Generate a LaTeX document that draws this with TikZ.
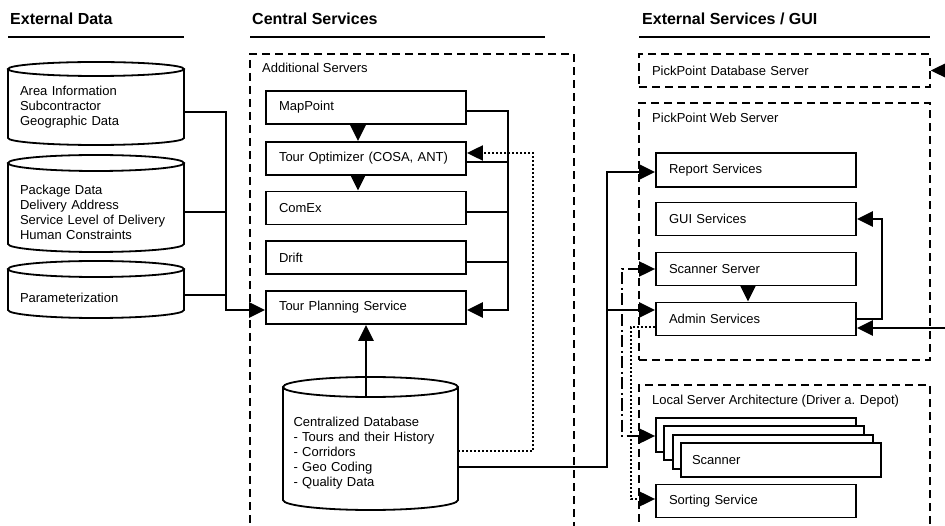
\documentclass[tikz,border=0pt]{standalone}
\usepackage{fontspec}
\setmainfont{Liberation Sans}
\usetikzlibrary{arrows.meta}
\newcommand\cylshape[5]{%
  \pgfmathsetmacro\cxm{(#1+#2)/2}\pgfmathsetmacro\rxm{(#2-#1)/2}%
  \draw[cyl] (#1,#3+#5) -- (#1,#4-#5) arc[start angle=180,end angle=360,x radius=\rxm pt,y radius=#5 pt] -- (#2,#3+#5);
  \draw[cyl] (\cxm,#3+#5) ellipse[x radius=\rxm pt, y radius=#5 pt];}
\begin{document}
\begin{tikzpicture}[x=1pt,y=-1pt,
  font=\fontsize{13}{15}\selectfont,
  >={Triangle[length=16pt,width=15pt]},
  bx/.style={draw, line width=1.8pt, minimum width=200pt, minimum height=33pt, text width=174pt, inner xsep=13pt, inner ysep=0pt, align=left, fill=white},
  conn/.style={line width=2.4pt},
  dotl/.style={line width=2pt, dash pattern=on 2pt off 2pt},
  ddl/.style={line width=2pt, dash pattern=on 12pt off 3.5pt on 2pt off 3.5pt},
  cont/.style={draw, line width=1.5pt, dash pattern=on 8pt off 5pt},
  hdr/.style={font=\bfseries\fontsize{16}{19}\selectfont, anchor=base west, inner sep=0pt},
  uline/.style={line width=1.8pt},
  lbl/.style={anchor=west, inner sep=0pt},
  cyl/.style={line width=1.8pt},
  cylbody/.style={minimum width=176pt, text width=152pt, inner xsep=12pt, inner ysep=0pt, align=left}
]
\useasboundingbox (0,0) rectangle (945,526);
\clip (0,0) rectangle (945,526);

% headers
\node[hdr] (h1) at (10,25) {External Data};
\node[hdr] (h2) at (252,25) {Central Services};
\node[hdr] (h3) at (642,25) {External Services / GUI};
\draw[uline] (8,37) -- (184,37);
\draw[uline] (250,37) -- (545,37);
\draw[uline] (639,37) -- (930,37);

% containers
\node[cont, minimum width=324pt, minimum height=490pt] (addsrv) at (412,299) {};
\node[lbl] (addlbl) at (262,68) {Additional Servers};
\node[cont, minimum width=291pt, minimum height=33pt, text width=265pt, inner xsep=13pt, inner ysep=0pt, align=left] (pdb) at (784.5,70.5) {PickPoint Database Server};
\node[cont, minimum width=291pt, minimum height=257pt] (web) at (784.5,231.5) {};
\node[lbl] (weblbl) at (652,118) {PickPoint Web Server};
\node[cont, minimum width=291pt, minimum height=160pt] (local) at (784.5,465) {};
\node[lbl] (loclbl) at (652,401) {Local Server Architecture (Driver a. Depot)};

% cylinders
\cylshape{8}{184}{62}{145}{7}
\cylshape{8}{184}{155}{252}{8}
\cylshape{8}{184}{261}{318}{8}
\cylshape{283}{458}{377}{510}{10}
\node[cylbody] (c1) at (96,107) {Area Information\\Subcontractor\\Geographic Data};
\node[cylbody] (c2) at (96,212) {Package Data\\Delivery Address\\Service Level of Delivery\\Human Constraints};
\node[cylbody] (c3) at (96,298) {Parameterization};
\node[cylbody, minimum width=175pt, text width=154pt, inner xsep=10.5pt, minimum height=113pt] (db) at (370.5,453.5) {Centralized Database\\- Tours and their History\\- Corridors\\- Geo Coding\\- Quality Data};

% central boxes
\node[bx] (mp) at (366,107.5) {MapPoint};
\node[bx] (topt) at (366,158.5) {Tour Optimizer (COSA, ANT)};
\node[bx] (cx) at (366,208) {ComEx};
\node[bx] (dr) at (366,257.5) {Drift};
\node[bx] (tps) at (366,307.5) {Tour Planning Service};

% right boxes
\node[bx, minimum height=34pt] (rs) at (756,170) {Report Services};
\node[bx] (gs) at (756,219) {GUI Services};
\node[bx] (ss) at (756,269) {Scanner Server};
\node[bx] (adm) at (756,319) {Admin Services};
\node[bx, minimum height=34pt] (sc1) at (756,435) {};
\node[bx, minimum height=34pt] (sc2) at (764.3,443.3) {};
\node[bx, minimum height=34pt] (sc3) at (772.6,451.6) {};
\node[bx, minimum height=34pt, inner xsep=11pt, text width=178pt] (sc4) at (781,460) {Scanner};
\node[bx] (so) at (756,501) {Sorting Service};

% left inputs
\draw[conn,->] ([yshift=-5pt]c1.east) -- ++(42,0) |- ([yshift=-2.5pt]tps.west);
\draw[conn] (c2.east) -- ++(42,0);
\draw[conn] ([yshift=3pt]c3.east) -- ++(42,0);

% bus
\draw[conn,->] ([yshift=-3.5pt]mp.east) -- ++(41,0) |- ([yshift=-2.5pt]tps.east);
\draw[conn] ([yshift=-3.5pt]topt.east) -- ++(41,0);
\draw[conn] ([yshift=-4pt]cx.east) -- ++(41,0);
\draw[conn] ([yshift=-4.5pt]dr.east) -- ++(41,0);

% chain
\draw[conn,->] ([xshift=-8pt]mp.south) -- ([xshift=-8pt]topt.north);
\draw[conn,->] ([xshift=-8pt]topt.south) -- ([xshift=-8pt]cx.north);

% database
\draw[conn,->] (tps.south |- db.north) -- (tps.south);
\draw[dotl,->] ([yshift=2.5pt]db.east) -- ++(75,0) |- ([yshift=5.5pt]topt.east);
\draw[conn,->] ([yshift=-13.5pt]db.east) -- ++(149,0) |- ([yshift=-2pt]rs.west);
\coordinate (j2) at (607,310);
\draw[conn,->] (j2) -- (j2 -| adm.west);

% right side
\draw[conn,->] ([xshift=-8pt]ss.south) -- ([xshift=-8pt]adm.north);
\draw[conn,->] (adm.east) -- ++(25,0) |- (gs.east);
\coordinate (e1) at (950,328);
\draw[conn,->] (e1) -- (e1 -| adm.east);
\coordinate (e2) at (950,70.5);
\draw[conn,->] (e2) -- (pdb.east);
\draw[ddl,<->] (ss.west) -- ++(-33,0) |- ([yshift=-1pt]sc1.west);
\draw[dotl,->] ([yshift=-8pt]adm.west) -- ++(-24,0) |- ([yshift=2pt]so.west);
\end{tikzpicture}
\end{document}
